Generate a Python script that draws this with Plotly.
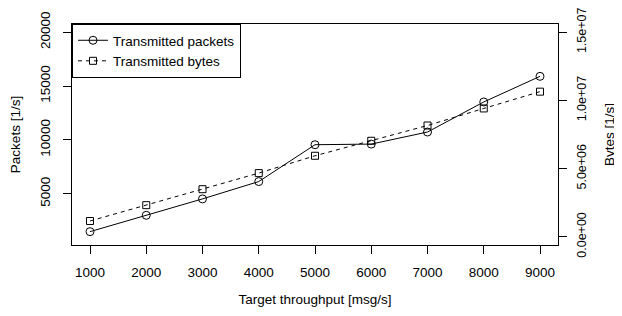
import plotly.graph_objects as go

throughput = [1000, 2000, 3000, 4000, 5000, 6000, 7000, 8000, 9000]
packets = [1480, 3000, 4520, 6130, 9550, 9610, 10730, 13520, 15900]
bytes_ = [1.16e6, 2.32e6, 3.49e6, 4.67e6, 5.94e6, 7.04e6, 8.16e6, 9.41e6, 1.064e7]

x_ticks = throughput
left_ticks = [5000, 10000, 15000, 20000]
right_ticks = [0, 5e6, 1e7, 1.5e7]
right_labels = ["0.0e+00", "5.0e+06", "1.0e+07", "1.5e+07"]

font = dict(family="Liberation Sans, Arial, Helvetica, sans-serif", size=13.5, color="black")
right_tick_font = dict(family="Liberation Sans, Arial, Helvetica, sans-serif", size=12.5, color="black")

fig = go.Figure()
fig.add_trace(go.Scatter(
    x=throughput, y=packets, name="Transmitted packets", mode="lines+markers",
    line=dict(color="black", width=1),
    marker=dict(symbol="circle-open", size=8, color="black", line=dict(width=1, color="black")),
))
fig.add_trace(go.Scatter(
    x=throughput, y=bytes_, name="Transmitted bytes", mode="lines+markers", yaxis="y2",
    line=dict(color="black", width=1, dash="4px,4px"),
    marker=dict(symbol="square-open", size=7, color="black", line=dict(width=1, color="black")),
))

# The page body has an 8px default margin, so the figure is sized/offset to compensate.
fig.update_layout(
    width=614, height=308,
    margin=dict(l=64, r=64, t=16, b=71, autoexpand=False),
    paper_bgcolor="white", plot_bgcolor="white",
    font=font,
    showlegend=True,
    legend=dict(x=0, y=1, xanchor="left", yanchor="top", bordercolor="black", borderwidth=1,
                bgcolor="white", font=font, tracegroupgap=0, itemwidth=30),
    xaxis=dict(
        range=[680, 9320], tickvals=x_ticks, ticktext=[str(v) for v in x_ticks],
        automargin=False, ticklabeloverflow="allow",
        showgrid=False, zeroline=False, showline=True, linecolor="black", linewidth=1, mirror=True,
        ticks="outside", ticklen=8, tickcolor="black", ticklabelstandoff=7,
        title=dict(text="Target throughput [msg/s]", font=font, standoff=15),
    ),
    yaxis=dict(
        range=[240, 20760], tickvals=left_ticks, ticktext=[str(v) for v in left_ticks],
        tickangle=-90, automargin=False, ticklabeloverflow="allow",
        showgrid=False, zeroline=False, showline=True, linecolor="black", linewidth=1, mirror=True,
        ticks="outside", ticklen=8, tickcolor="black", ticklabelstandoff=8,
        title=dict(text="Packets [1/s]", font=font, standoff=13),
    ),
    yaxis2=dict(
        overlaying="y", side="right",
        range=[-6e5, 1.56e7], tickvals=right_ticks, ticktext=right_labels,
        tickangle=-90, automargin=False, ticklabeloverflow="allow", tickfont=right_tick_font,
        showgrid=False, zeroline=False, showline=False,
        ticks="outside", ticklen=8, tickcolor="black", ticklabelstandoff=4,
        title=dict(text="Bytes [1/s]", font=font, standoff=16),
    ),
)

fig.write_html("out.html")
